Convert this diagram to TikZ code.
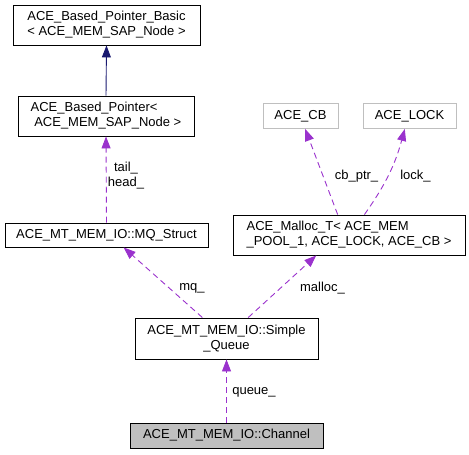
\documentclass[tikz,border=0pt]{standalone}
\usepackage{fontspec}
\setmainfont{Liberation Sans}
\usetikzlibrary{arrows.meta}
\definecolor{usecol}{HTML}{9A32CD}
\definecolor{inhcol}{HTML}{191970}
\definecolor{greybox}{HTML}{BFBFBF}

\begin{document}
\begin{tikzpicture}[x=1bp,y=-1bp,font=\fontsize{13bp}{15bp}\selectfont,
  klass/.style={draw=black,line width=0.9bp,inner sep=0pt,align=center},
  extklass/.style={klass,draw=greybox},
  usedby/.style={draw=usecol,line width=0.9bp,dash pattern=on 6bp off 4bp,
    -{Triangle[length=12bp,width=9bp,fill=usecol]}},
  inherits/.style={draw=inhcol,line width=0.9bp,
    -{Triangle[length=12bp,width=9bp,fill=inhcol]}},
  lbl/.style={inner sep=0pt,align=center}]

\useasboundingbox (0,0) rectangle (469,455);

\node[klass,minimum width=187bp,minimum height=40bp] (basic) at (106.5,25)
  {ACE\_Based\_Pointer\_Basic\\< ACE\_MEM\_SAP\_Node >};
\node[klass,align=left,minimum width=176bp,minimum height=40bp] (bptr) at (106,116)
  {ACE\_Based\_Pointer<\\\ ACE\_MEM\_SAP\_Node >};
\node[klass,minimum width=203bp,minimum height=24bp] (mq) at (106.5,235)
  {ACE\_MT\_MEM\_IO::MQ\_Struct};
\node[extklass,minimum width=75bp,minimum height=25bp] (cb) at (300.5,116) {ACE\_CB};
\node[extklass,minimum width=93bp,minimum height=25bp] (lock) at (409.5,116) {ACE\_LOCK};
\node[klass,align=left,minimum width=232bp,minimum height=40bp] (malloc) at (349,235)
  {ACE\_Malloc\_T< ACE\_MEM\\\_POOL\_1, ACE\_LOCK, ACE\_CB >};
\node[klass,minimum width=183bp,minimum height=41bp] (squeue) at (226.5,338.5)
  {ACE\_MT\_MEM\_IO::Simple\\\_Queue};
\node[klass,fill=greybox,minimum width=193bp,minimum height=25bp] (channel) at (226.5,435.5)
  {ACE\_MT\_MEM\_IO::Channel};

\draw[inherits] (bptr.north) -- (basic.south);
\draw[usedby] (mq.north) -- (bptr.south);
\draw[usedby] (malloc.119) -- (cb.-70);
\draw[usedby] (malloc.53) to[bend right=10] (lock.-110);
\draw[usedby] (squeue.139) -- (mq.-36);
\draw[usedby] (squeue.44) -- (malloc.-148);
\draw[usedby] (channel.north) -- (squeue.south);

\node[lbl] (ltailhead) at (126,176) {tail\_\\head\_};
\node[lbl] (lcb) at (356.5,176) {cb\_ptr\_};
\node[lbl] (llock) at (415.5,176) {lock\_};
\node[lbl] (lmq) at (192,288) {mq\_};
\node[lbl] (lmalloc) at (322.5,288) {malloc\_};
\node[lbl] (lqueue) at (254,392) {queue\_};

\end{tikzpicture}
\end{document}
